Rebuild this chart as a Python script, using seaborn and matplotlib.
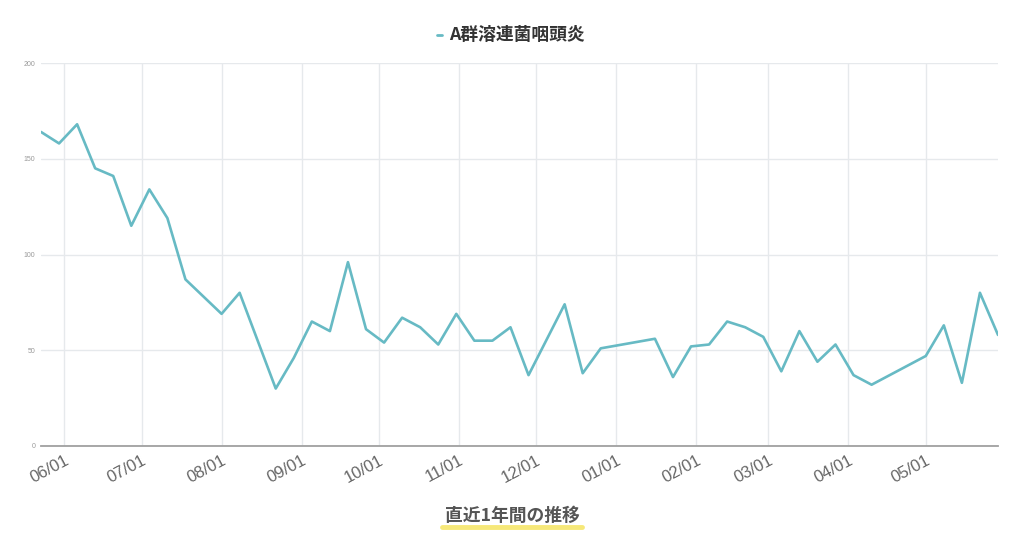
import pandas as pd
import numpy as np
import seaborn as sns
import matplotlib.pyplot as plt
import matplotlib.dates as mdates
from matplotlib.lines import Line2D

# Weekly reports (only the visible vertices of the line)
dates = [
    "2024-05-23", "2024-05-30", "2024-06-06", "2024-06-13", "2024-06-20",
    "2024-06-27", "2024-07-04", "2024-07-11", "2024-07-18", "2024-08-01",
    "2024-08-08", "2024-08-22", "2024-08-29", "2024-09-05", "2024-09-12",
    "2024-09-19", "2024-09-26", "2024-10-03", "2024-10-10", "2024-10-17",
    "2024-10-24", "2024-10-31", "2024-11-07", "2024-11-14", "2024-11-21",
    "2024-11-28", "2024-12-12", "2024-12-19", "2024-12-26", "2025-01-16",
    "2025-01-23", "2025-01-30", "2025-02-06", "2025-02-13", "2025-02-20",
    "2025-02-27", "2025-03-06", "2025-03-13", "2025-03-20", "2025-03-27",
    "2025-04-03", "2025-04-10", "2025-05-01", "2025-05-08", "2025-05-15",
    "2025-05-22", "2025-05-29",
]
cases = [
    164, 158, 168, 145, 141,
    115, 134, 119, 87, 69,
    80, 30, 46, 65, 60,
    96, 61, 54, 67, 62,
    53, 69, 55, 55, 62,
    37, 74, 38, 51, 56,
    36, 52, 53, 65, 62,
    57, 39, 60, 44, 53,
    37, 32, 47, 63, 33,
    80, 58,
]
series_name = "A群溶連菌咽頭炎"
y_ticks = [0, 50, 100, 150, 200]

df = pd.DataFrame({"date": pd.to_datetime(dates), "cases": cases})

sns.set_style("white")
plt.rcParams['font.family'] = ['Liberation Sans', 'Noto Sans CJK JP', 'DejaVu Sans']

line_color = "#67bac4"

fig = plt.figure(figsize=(10.24, 5.38), dpi=100)
ax = fig.add_axes([41 / 1024, 1 - 446 / 538, (998 - 41) / 1024, (446 - 63) / 538])

sns.lineplot(data=df, x="date", y="cases", ax=ax, color=line_color,
             linewidth=1.9, label=series_name, legend=False)

ax.set_xlim(df["date"].min(), df["date"].max())
ax.set_ylim(0, 200)
ax.set_yticks(y_ticks)
ax.tick_params(axis="y", labelsize=5, colors="#999999", length=0, pad=4)

ax.xaxis.set_major_locator(mdates.MonthLocator())
ax.xaxis.set_major_formatter(mdates.DateFormatter("%m/%d"))
ax.tick_params(axis="x", labelsize=12, colors="#666666", length=0, pad=5)
for lab in ax.get_xticklabels():
    lab.set_rotation(28)
    lab.set_ha("right")
    lab.set_rotation_mode("anchor")

ax.grid(True, color="#e6e9ec", linewidth=1)
ax.set_axisbelow(True)
ax.set_xlabel("")
ax.set_ylabel("")
for side in ["top", "right", "left"]:
    ax.spines[side].set_visible(False)
ax.spines["bottom"].set_color("#a0a0a0")
ax.spines["bottom"].set_linewidth(1.3)

# legend at the top
fig.add_artist(Line2D([437 / 1024, 442 / 1024], [1 - 35 / 538] * 2,
                      color=line_color, linewidth=2, transform=fig.transFigure))
fig.text(449 / 1024, 1 - 35 / 538, series_name, ha="left", va="center",
         fontsize=12.8, fontweight="bold", color="#333333",
         family=['Noto Sans CJK JP', 'DejaVu Sans'])

# caption with yellow marker underline
fig.add_artist(Line2D([442 / 1024, 582 / 1024], [1 - 527 / 538] * 2,
                      color="#f6e66a", linewidth=3.5, solid_capstyle="round",
                      alpha=0.9, transform=fig.transFigure))
fig.text(512 / 1024, 1 - 516 / 538, "直近1年間の推移", ha="center", va="center",
         fontsize=12.8, fontweight="bold", color="#555555",
         family=['Noto Sans CJK JP', 'DejaVu Sans'])

fig.savefig("out.png", dpi=100, facecolor="white")
